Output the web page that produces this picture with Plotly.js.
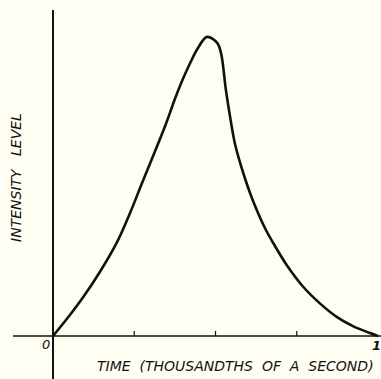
<!DOCTYPE html>
<html><head><meta charset="utf-8">
<script src="https://cdn.plot.ly/plotly-3.0.1.min.js"></script>
<style>html,body{margin:0;padding:0;background:#fefef2;}</style>
</head><body><div id="chart" style="width:381px;height:379px;"></div>
<script>
// Time in thousandths of a second (0..1), intensity level (relative, peak ~1)
const timeValues = [0, 0.052, 0.092, 0.145, 0.197, 0.237, 0.274, 0.345, 0.375, 0.397, 0.422, 0.446, 0.474, 0.505, 0.517, 0.532, 0.545, 0.56, 0.582, 0.612, 0.652, 0.683, 0.72, 0.769, 0.822, 0.874, 0.923, 0.975, 1.0];
const intensityValues = [0, 0.07, 0.128, 0.215, 0.313, 0.41, 0.51, 0.70, 0.79, 0.85, 0.91, 0.96, 0.997, 0.977, 0.943, 0.82, 0.73, 0.64, 0.555, 0.46, 0.36, 0.30, 0.235, 0.165, 0.108, 0.063, 0.033, 0.01, 0];
const tickPositions = [0.25, 0.5, 0.75];
const xEndLabels = ["0", "1"];
const xTitle = "TIME  (THOUSANDTHS  OF  A  SECOND)";
const yTitle = "INTENSITY   LEVEL";

const ink = "#111";
const shapes = [
  {type:"line", xref:"x", yref:"y", x0:0, x1:0, y0:-0.15, y1:1.087, line:{color:ink, width:2}},
  {type:"line", xref:"x", yref:"y", x0:-0.123, x1:1.01, y0:0, y1:0, line:{color:ink, width:1.5}}
];
tickPositions.forEach(t => shapes.push({type:"line", xref:"x", yref:"y", x0:t, x1:t, y0:0, y1:0.017, line:{color:ink, width:1.2}}));

const font = {family:"DejaVu Sans", size:14, color:ink};
const annotations = [
  {x:-0.021, y:0.005, xref:"x", yref:"y", text:"<i>"+xEndLabels[0]+"</i>", showarrow:false, xanchor:"center", yanchor:"top", font:{family:"DejaVu Sans", size:13, color:ink}},
  {x:0.995, y:0.0, xref:"x", yref:"y", text:"<b><i>"+xEndLabels[1]+"</i></b>", showarrow:false, xanchor:"center", yanchor:"top", font:{family:"DejaVu Sans", size:13, color:ink}},
  {x:0.56, y:-0.1, xref:"x", yref:"y", text:"<i>"+xTitle+"</i>", showarrow:false, xanchor:"center", yanchor:"middle", font:font},
  {x:-0.114, y:0.53, xref:"x", yref:"y", text:"<i>"+yTitle+"</i>", showarrow:false, textangle:-90, xanchor:"center", yanchor:"middle", font:font}
];

Plotly.newPlot("chart", [{
  x: timeValues, y: intensityValues, type:"scatter", mode:"lines",
  line:{color:ink, width:2.6, shape:"spline", smoothing:1.0}, hoverinfo:"skip"
}], {
  width:381, height:379,
  margin:{l:0, r:0, t:0, b:0},
  paper_bgcolor:"#fefef2", plot_bgcolor:"#fefef2",
  showlegend:false,
  xaxis:{range:[-0.1631, 1.0092], visible:false, fixedrange:true},
  yaxis:{range:[-0.1433, 1.12], visible:false, fixedrange:true},
  shapes: shapes,
  annotations: annotations
}, {displayModeBar:false, staticPlot:true});
</script></body></html>
